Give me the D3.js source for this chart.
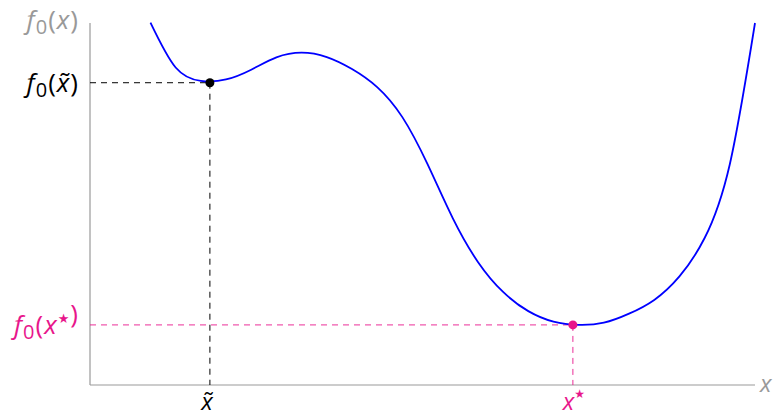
<!DOCTYPE html>
<html>
<head>
<meta charset="utf-8">
<script src="https://cdn.jsdelivr.net/npm/d3@7"></script>
<style>
  html, body { margin: 0; padding: 0; background: #fff; }
  svg { display: block; font-family: "Open Sans", "DejaVu Sans", sans-serif; }
</style>
</head>
<body>
<div id="chart"></div>
<script>
// curve f0(x) at evenly spaced x (data units)
const curveX = d3.range(0, 25); // 0, 1, ..., 24
const curveY = [10.01, 8.77, 8.40, 8.44, 8.71, 9.05, 9.18, 9.06, 8.73, 8.23, 7.40, 6.10, 4.61,
  3.40, 2.57, 2.04, 1.75, 1.66, 1.72, 1.97, 2.35, 3.00, 4.06, 6.10, 10.0];

// marked points: local min x~ and global min x*
const markX = [2.36, 16.77];
const markY = [8.35, 1.66];
const markColors = ['#000000', '#e8168b'];

const width = 781, height = 417;
const axisColor = '#999999';

const x = d3.scaleLinear().domain([-2.4, 24]).range([90, 755]);
const y = d3.scaleLinear().domain([0, 10]).range([385, 23]);

const svg = d3.select('#chart').append('svg')
  .attr('width', width)
  .attr('height', height);

// axes (plain lines, no ticks)
svg.append('line')
  .attr('x1', x(-2.4)).attr('x2', x(-2.4))
  .attr('y1', y(0)).attr('y2', y(10))
  .attr('stroke', axisColor).attr('stroke-width', 1.2);
svg.append('line')
  .attr('x1', x(-2.4)).attr('x2', x(24))
  .attr('y1', y(0)).attr('y2', y(0))
  .attr('stroke', axisColor).attr('stroke-width', 1.2);

// dashed guide lines
markX.forEach((mx, i) => {
  const g = svg.append('g')
    .attr('stroke', markColors[i])
    .attr('stroke-width', i === 0 ? 1 : 0.9)
    .attr('stroke-dasharray', '6,5');
  g.append('line')
    .attr('x1', x(-2.4)).attr('x2', x(mx))
    .attr('y1', y(markY[i])).attr('y2', y(markY[i]));
  g.append('line')
    .attr('x1', x(mx)).attr('x2', x(mx))
    .attr('y1', y(markY[i])).attr('y2', y(0));
});

// the curve
const line = d3.line()
  .x(d => x(d[0]))
  .y(d => y(d[1]))
  .curve(d3.curveNatural);

svg.append('path')
  .datum(d3.zip(curveX, curveY))
  .attr('d', line)
  .attr('fill', 'none')
  .attr('stroke', '#0000ff')
  .attr('stroke-width', 1.8);

// points
svg.selectAll('.mark')
  .data(d3.range(markX.length))
  .enter()
  .append('circle')
  .attr('class', 'mark')
  .attr('cx', i => x(markX[i]))
  .attr('cy', i => y(markY[i]))
  .attr('r', 4.5)
  .attr('fill', i => markColors[i]);

// math-style label: f_0( arg )
function fLabel(xr, yb, arg, color) {
  const t = svg.append('text')
    .attr('x', xr).attr('y', yb)
    .attr('text-anchor', 'end')
    .attr('fill', color)
    .attr('font-size', 26)
    .attr('letter-spacing', 1);
  t.append('tspan').attr('font-style', 'italic').text('f');
  t.append('tspan').attr('font-size', 20).attr('dy', 5).text('0');
  t.append('tspan').attr('dy', -5).text('(');
  arg(t);
  t.append('tspan').text(')');
}

fLabel(79, 29, t => t.append('tspan').attr('font-style', 'italic').text('x'), axisColor);
fLabel(79, y(markY[0]) + 9, t => t.append('tspan').attr('font-style', 'italic').text('x\u0303'), '#000');
fLabel(79, y(markY[1]) + 9, t => {
  t.append('tspan').attr('font-style', 'italic').text('x');
  t.append('tspan').attr('font-size', 13).attr('dy', -11).text('\u2605');
  t.append('tspan').attr('dy', 11).text('');
}, markColors[1]);

// x-axis labels
svg.append('text')
  .attr('x', x(markX[0]) - 3).attr('y', 410)
  .attr('text-anchor', 'middle')
  .attr('font-size', 24).attr('font-style', 'italic')
  .attr('fill', '#000')
  .text('x\u0303');

const xs = svg.append('text')
  .attr('x', x(markX[1]) + 1).attr('y', 410)
  .attr('text-anchor', 'middle')
  .attr('font-size', 24)
  .attr('fill', markColors[1]);
xs.append('tspan').attr('font-style', 'italic').text('x');
xs.append('tspan').attr('font-size', 12).attr('dy', -12).text('\u2605');

svg.append('text')
  .attr('x', 760).attr('y', 392)
  .attr('font-size', 24).attr('font-style', 'italic')
  .attr('fill', axisColor)
  .text('x');
</script>
</body>
</html>
